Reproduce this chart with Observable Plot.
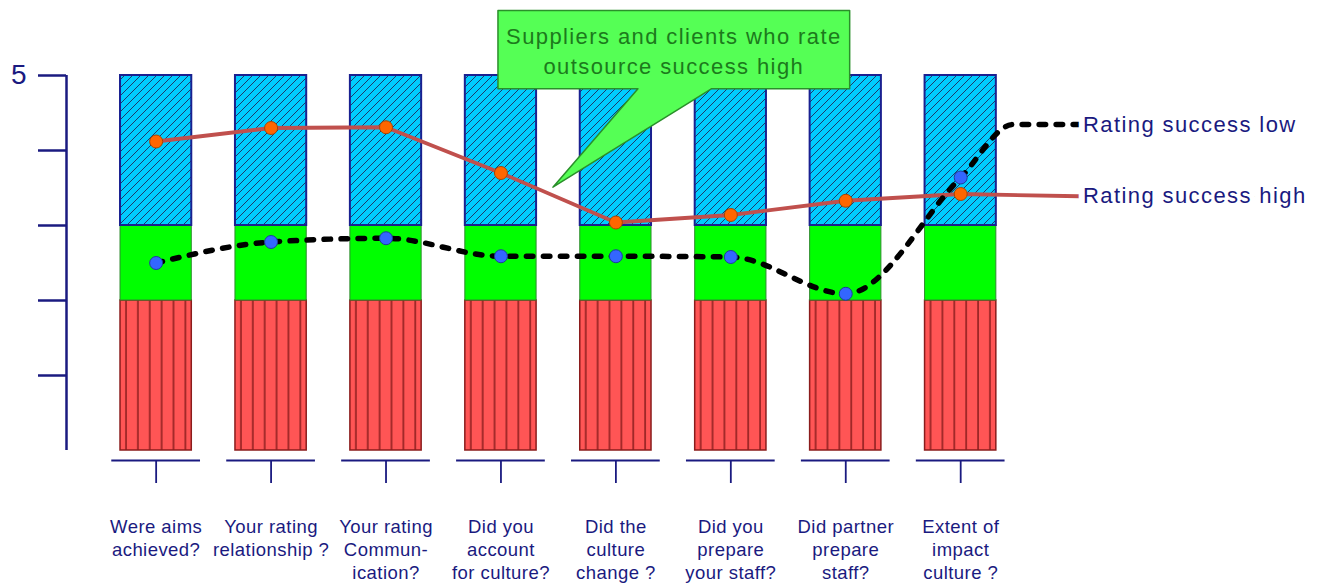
<!DOCTYPE html>
<html><head><meta charset="utf-8">
<script src="https://cdn.jsdelivr.net/npm/d3@7"></script>
<script src="https://cdn.jsdelivr.net/npm/@observablehq/plot@0.6"></script>
<style>
html,body{margin:0;padding:0;background:#fff;overflow:hidden}
#chart svg{display:block}
</style></head><body><div id="chart"></div>
<script>
// ---- data ----
const categories = [
  "Were aims\nachieved?",
  "Your rating\nrelationship ?",
  "Your rating\nCommun-\nication?",
  "Did you\naccount\nfor culture?",
  "Did the\nculture\nchange ?",
  "Did you\nprepare\nyour staff?",
  "Did partner\nprepare\nstaff?",
  "Extent of\nimpact\nculture ?"
];
const highRating = [4.12, 4.30, 4.31, 3.70, 3.04, 3.14, 3.33, 3.42];
const lowRating  = [2.50, 2.78, 2.83, 2.59, 2.59, 2.58, 2.09, 3.64];
const zoneFrom = [0, 2, 3];
const zoneTo   = [2, 3, 5];
const yTicks = [1, 2, 3, 4, 5];
const seriesNames = ["Rating success low", "Rating success high"];
const calloutText = "Suppliers and clients who rate\noutsource success high";

// ---- annotation geometry (label leaders & callout, in data units) ----
const lowLeader  = [[7.46, 4.347], [8.03, 4.347]];
const highLeader = [[8.03, 3.39], [10, 3.36]];
const labelAnchors = [lowLeader[1], highLeader[0]];
const calloutBox = {x1: 2.974, x2: 6.034, y1: 4.823, y2: 5.867};
const calloutTail = {xa: 4.192, xb: 4.830, tipX: 3.452, tipY: 3.511};

// ---- derived tables ----
const idx = categories.map((_, i) => i);
const highPts = idx.map(i => [i, highRating[i]]).concat(highLeader);
const lowPts  = idx.map(i => [i, lowRating[i]]).concat(lowLeader);
const b = calloutBox, t = calloutTail;
const calloutPoly = [
  [b.x1, b.y2], [b.x2, b.y2], [b.x2, b.y1], [t.xb, b.y1],
  [t.tipX, t.tipY], [t.xa, b.y1], [b.x1, b.y1], [b.x1, b.y2]
];

const navy = "#1a1a80";
const yBase = -10 / 75;
const half = 0.31;

const zoneStyles = [
  {fill: "url(#redStripes)", stroke: "#8a1c1c", strokeWidth: 1.5},
  {fill: "#00ff00", stroke: "#2e8b2e", strokeWidth: 1},
  {fill: "url(#blueHatch)", stroke: "#1a2090", strokeWidth: 2}
];

const svg = Plot.plot({
  width: 1321, height: 583,
  marginLeft: 66, marginRight: 16, marginTop: 75, marginBottom: 123,
  x: {domain: [-0.78, 10], axis: null},
  y: {domain: [yBase, 5], axis: null},
  style: {fontFamily: "'Liberation Sans', Arial, sans-serif", background: "white", overflow: "visible"},
  marks: [
    ...zoneFrom.map((z, k) => Plot.rect(idx, {
      x1: i => i - half, x2: i => i + half,
      y1: () => zoneFrom[k], y2: () => zoneTo[k],
      ...zoneStyles[k]
    })),
    Plot.line(calloutPoly, {x: d => d[0], y: d => d[1], fill: "#55ff55", stroke: "#2a8f2a", strokeWidth: 1.5}),
    Plot.text([calloutText], {
      x: (b.x1 + b.x2) / 2, y: (b.y1 + b.y2) / 2, text: d => d,
      fontSize: 22, lineHeight: 1.36, fill: "#1c7a1c", lineAnchor: "middle"
    }),
    Plot.line(highPts, {x: d => d[0], y: d => d[1], stroke: "#c0504d", strokeWidth: 3.8}),
    Plot.line(lowPts, {x: d => d[0], y: d => d[1], stroke: "black", strokeWidth: 5.5,
      strokeDasharray: "6.5,10.5", strokeLinecap: "round", curve: "monotone-x"}),
    Plot.dot(idx, {x: i => i, y: i => highRating[i], r: 6.5, fill: "#ff6600", stroke: "#a84400", strokeWidth: 1}),
    Plot.dot(idx, {x: i => i, y: i => lowRating[i], r: 6.5, fill: "#3366ff", stroke: "#1f3c9a", strokeWidth: 1}),
    Plot.text([0, 1], {
      x: k => labelAnchors[k][0],
      y: k => labelAnchors[k][1],
      text: k => seriesNames[k], dx: 4, textAnchor: "start", fontSize: 22, fill: navy,
      stroke: "white", strokeWidth: 12, strokeLinejoin: "round", paintOrder: "stroke"
    }),
    Plot.ruleX([-0.78], {y1: 0, y2: 5, stroke: navy, strokeWidth: 2.5}),
    Plot.axisY({ticks: yTicks, tickSize: 28, tickPadding: 12, tickFormat: d => d === 5 ? "5" : "",
      fontSize: 28, color: navy, strokeWidth: 2.5}),
    Plot.ruleY(idx, {y: () => yBase, x1: i => i - 0.386, x2: i => i + 0.386, stroke: navy, strokeWidth: 1.8}),
    Plot.axisX({ticks: idx, tickFormat: i => categories[i], tickSize: 23, tickPadding: 33,
      fontSize: 18.5, lineHeight: 1.24, color: navy, strokeWidth: 1.8})
  ]
});

// patterns
const defs = d3.select(svg).insert("defs", ":first-child");
const red = defs.append("pattern").attr("id", "redStripes")
  .attr("patternUnits", "objectBoundingBox").attr("width", 1 / 6).attr("height", 1);
red.append("rect").attr("width", 40).attr("height", 1000).attr("fill", "#ff5555");
red.append("line").attr("x1", 6).attr("x2", 6).attr("y1", 0).attr("y2", 1000)
  .attr("stroke", "#8a1c1c").attr("stroke-width", 1.5);
const blue = defs.append("pattern").attr("id", "blueHatch")
  .attr("patternUnits", "userSpaceOnUse").attr("width", 8).attr("height", 8);
blue.append("rect").attr("width", 8).attr("height", 8).attr("fill", "#00ccff");
blue.append("path").attr("d", "M-2,2 L2,-2 M0,8 L8,0 M6,10 L10,6")
  .attr("stroke", "#1d3a6a").attr("stroke-width", 1);

document.getElementById("chart").appendChild(svg);

// letter spacing to mimic the original rendering
d3.select(svg).selectAll("text").each(function () {
  const fs = parseFloat(getComputedStyle(this).fontSize);
  if (fs > 21 && fs < 23) this.style.letterSpacing = "1.4px";
  else if (fs > 18 && fs < 19) this.style.letterSpacing = "0.45px";
});
</script></body></html>
